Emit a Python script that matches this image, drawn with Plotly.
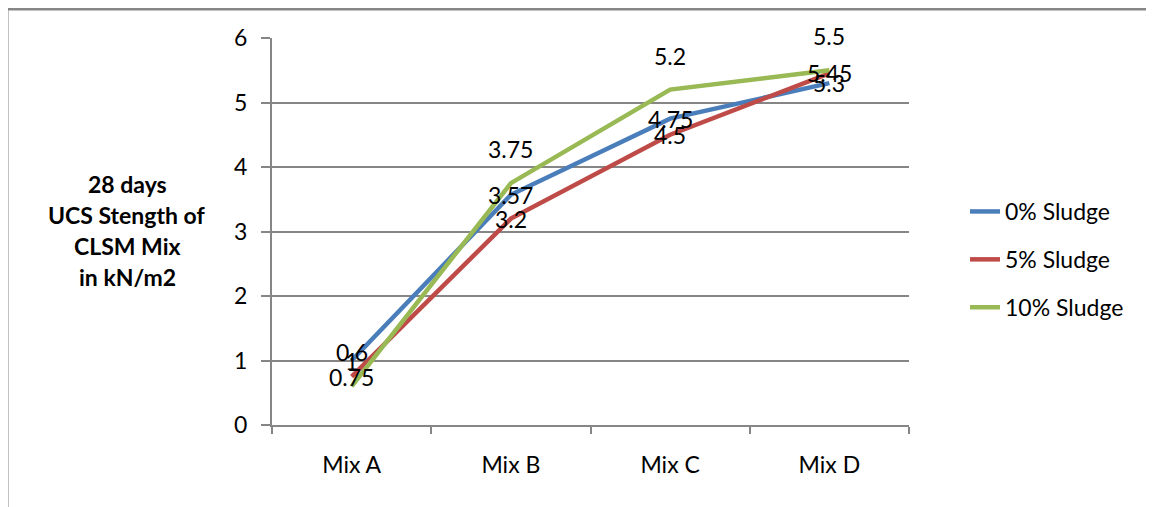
import plotly.graph_objects as go

categories = ["Mix A", "Mix B", "Mix C", "Mix D"]
sludge0 = [1, 3.57, 4.75, 5.3]
sludge5 = [0.75, 3.2, 4.5, 5.45]
sludge10 = [0.6, 3.75, 5.2, 5.5]
series_names = ["0% Sludge", "5% Sludge", "10% Sludge"]
y_ticks = [0, 1, 2, 3, 4, 5, 6]
y_title_lines = ["28 days", "UCS Stength of", "CLSM Mix", "in kN/m2"]

colors = ["#4A7EBB", "#BE4B48", "#98B954"]
label_shift = [0, 0, 34]
FONT = "Lato"
OFF = 8  # page body margin
W, H = 1154 - OFF, 507 - OFF
# plot area in window pixels: x 272..909, y 38..425
L = 272 - OFF
T = 38 - OFF
R = W - (909 - OFF)
B = H - (425 - OFF)
pw, ph = W - L - R, H - T - B


def px_x(p):
    return (p - OFF - L) / pw


def px_y(p):
    return (H - B - (p - OFF)) / ph


fig = go.Figure()
for i, (name, vals) in enumerate(zip(series_names, [sludge0, sludge5, sludge10])):
    fig.add_trace(go.Scatter(
        x=categories, y=vals, name=name, mode="lines",
        line=dict(color=colors[i], width=4.5),
        legendgroup=name,
    ))
    for c, v in zip(categories, vals):
        fig.add_annotation(x=c, y=v, text=f"{v:g}", showarrow=False,
                           yshift=label_shift[i],
                           font=dict(family=FONT, size=23, color="#000000"))

# y-axis title lines
for k, line in enumerate(y_title_lines):
    fig.add_annotation(xref="paper", yref="paper", x=px_x(127), y=px_y(184 + k * 31),
                       text=f"<b>{line}</b>", showarrow=False, xanchor="center", yanchor="middle",
                       font=dict(family=FONT, size=23, color="#000000"))

# chart border
fig.add_shape(type="line", xref="paper", yref="paper", x0=px_x(7), x1=px_x(1170), y0=px_y(9), y1=px_y(9),
              line=dict(color="#868686", width=3))
fig.add_shape(type="line", xref="paper", yref="paper", x0=px_x(7), x1=px_x(7), y0=px_y(9), y1=px_y(520),
              line=dict(color="#868686", width=3))

fig.update_layout(
    width=W, height=H,
    margin=dict(l=L, r=R, t=T, b=B, autoexpand=False),
    paper_bgcolor="white", plot_bgcolor="white",
    font=dict(family=FONT, size=23, color="#000000"),
    showlegend=True,
    legend=dict(x=px_x(965), y=px_y(190), xanchor="left", yanchor="top",
                font=dict(family=FONT, size=23), tracegroupgap=15,
                bgcolor="rgba(0,0,0,0)"),
    xaxis=dict(type="category", range=[-0.5, 3.5], tickson="boundaries",
               ticks="outside", ticklen=7, tickcolor="#868686", tickwidth=2,
               showline=True, linecolor="#868686", linewidth=2, showgrid=False,
               ticklabelstandoff=18,
               tickfont=dict(family=FONT, size=23)),
    yaxis=dict(range=[0, 6], tickvals=y_ticks, ticks="outside", ticklen=9,
               tickcolor="#868686", tickwidth=2, showline=True, linecolor="#868686",
               linewidth=2, showgrid=True, gridcolor="#868686", gridwidth=2,
               ticklabelstandoff=9,
               zeroline=False, tickfont=dict(family=FONT, size=23)),
)

fig.write_html("out.html")
